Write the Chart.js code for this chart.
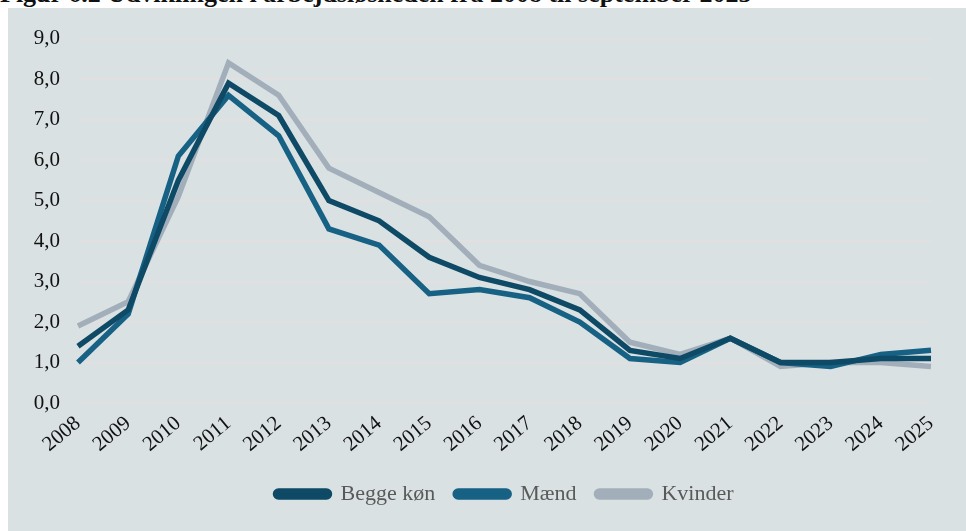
<!DOCTYPE html>
<html>
<head>
<meta charset="utf-8">
<script src="https://cdn.jsdelivr.net/npm/chart.js@4"></script>
<style>
    body { margin: 0; background: #fff; overflow: hidden; }
    #title {
        position: absolute; left: 0; top: -21px; white-space: nowrap;
        font: bold 26px "Liberation Serif", serif; color: #111;
    }
    #panel {
        position: absolute; left: 8px; top: 8px; width: 958px; height: 523px;
        background: #d9e1e3;
    }
</style>
</head>
<body>
<div id="title">Figur 6.2 Udviklingen i arbejdsløsheden fra 2008 til september 2025</div>
<div id="panel"><canvas id="chart"></canvas></div>
<script>
// data
const years = ["2008", "2009", "2010", "2011", "2012", "2013", "2014", "2015", "2016",
    "2017", "2018", "2019", "2020", "2021", "2022", "2023", "2024", "2025"];
const beggeKon = [1.4, 2.3, 5.5, 7.9, 7.1, 5.0, 4.5, 3.6, 3.1, 2.8, 2.3, 1.3, 1.1, 1.6, 1.0, 1.0, 1.1, 1.1];
const maend = [1.0, 2.2, 6.1, 7.6, 6.6, 4.3, 3.9, 2.7, 2.8, 2.6, 2.0, 1.1, 1.0, 1.6, 1.0, 0.9, 1.2, 1.3];
const kvinder = [1.9, 2.5, 5.1, 8.4, 7.6, 5.8, 5.2, 4.6, 3.4, 3.0, 2.7, 1.5, 1.2, 1.6, 0.9, 1.0, 1.0, 0.9];

const serif = "'Liberation Serif', 'DejaVu Serif', serif";

document.addEventListener("DOMContentLoaded", () => {
    const ctx = document.getElementById("chart");

    new Chart(ctx, {
        type: "line",
        data: {
            labels: years,
            datasets: [
                { label: "Begge køn", data: beggeKon, borderColor: "#0e4a66", backgroundColor: "#0e4a66" },
                { label: "Mænd", data: maend, borderColor: "#166184", backgroundColor: "#166184" },
                { label: "Kvinder", data: kvinder, borderColor: "#a2afba", backgroundColor: "#a2afba" }
            ]
        },
        options: {
            responsive: true,
            maintainAspectRatio: false,
            animation: false,
            layout: { padding: { top: 19, right: 35, left: 0, bottom: 16 } },
            elements: {
                line: { borderWidth: 5.5, tension: 0, borderJoinStyle: "miter" },
                point: { radius: 0 }
            },
            plugins: {
                tooltip: { enabled: false },
                legend: {
                    position: "bottom",
                    fullSize: false,
                    labels: {
                        color: "#595959",
                        font: { family: serif, size: 22 },
                        boxWidth: 54,
                        boxHeight: 6,
                        padding: 20,
                        useBorderRadius: true,
                        borderRadius: 3
                    }
                }
            },
            scales: {
                x: {
                    grid: { display: false },
                    border: { display: false },
                    ticks: {
                        color: "#111",
                        font: { family: serif, size: 21 },
                        minRotation: 40,
                        maxRotation: 40,
                        padding: 0
                    },
                    afterFit: (scale) => { scale.height = 60; }
                },
                y: {
                    min: 0,
                    max: 9,
                    grid: { color: "#e1dfdf", lineWidth: 2, drawTicks: false },
                    border: { display: false },
                    ticks: {
                        stepSize: 1,
                        color: "#111",
                        font: { family: serif, size: 21 },
                        padding: 18,
                        callback: (v) => v.toFixed(1).replace(".", ",")
                    },
                    afterFit: (scale) => { scale.width = 70; }
                }
            }
        }
    });
});
</script>
</body>
</html>
